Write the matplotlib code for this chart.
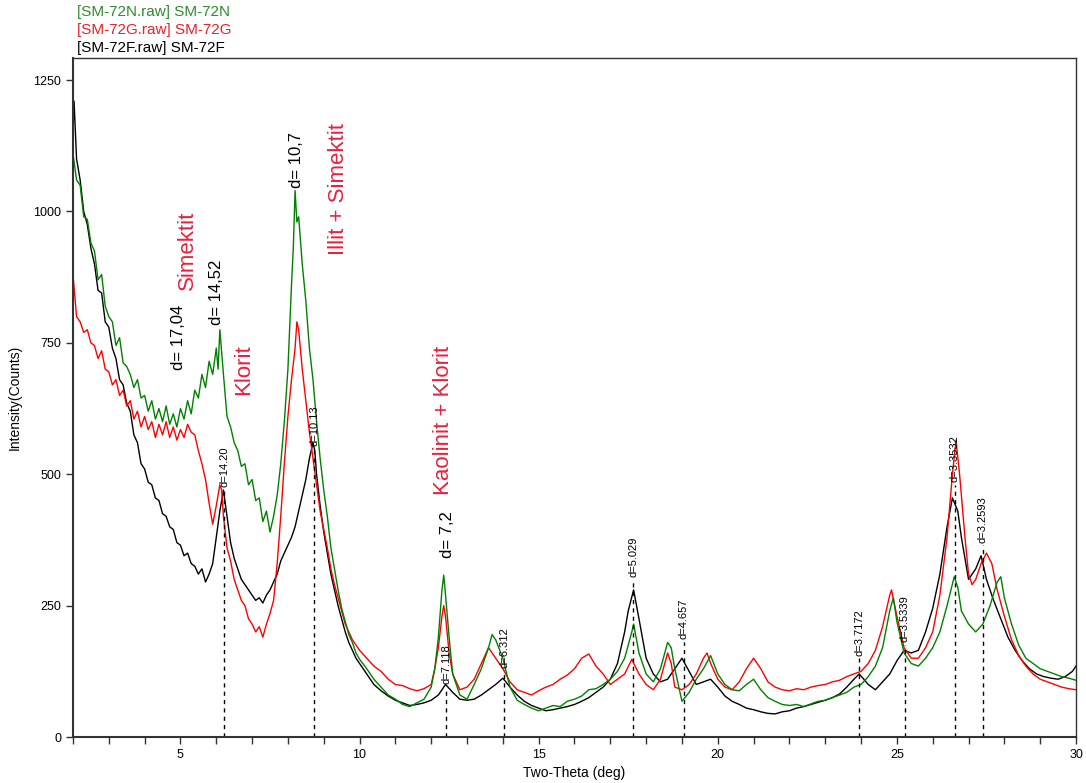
import matplotlib
matplotlib.use("Agg")
import matplotlib.pyplot as plt
from matplotlib.ticker import MultipleLocator

plt.rcParams['font.family'] = ['Liberation Sans', 'DejaVu Sans']

# SM-72N (green)
tt_n = [2.0, 2.1, 2.2, 2.3, 2.4, 2.5, 2.6, 2.7, 2.8, 2.9, 3.0, 3.1, 3.2, 3.3, 3.4, 3.5, 3.6, 3.7,
        3.8, 3.9, 4.0, 4.1, 4.2, 4.3, 4.4, 4.5, 4.6, 4.7, 4.8, 4.9, 5.0, 5.1, 5.2, 5.3, 5.4, 5.5,
        5.6, 5.7, 5.8, 5.9, 6.0, 6.05, 6.1, 6.2, 6.3, 6.4, 6.5, 6.6, 6.7, 6.8, 6.9, 7.0, 7.1, 7.2,
        7.3, 7.4, 7.5, 7.6, 7.7, 7.8, 7.9, 8.0, 8.1, 8.15, 8.2, 8.25, 8.3, 8.4, 8.5, 8.6, 8.7,
        8.8, 8.9, 9.0, 9.1, 9.2, 9.3, 9.4, 9.5, 9.6, 9.7, 9.8, 9.9, 10.0,
        10.2, 10.4, 10.6, 10.8, 11.0, 11.2, 11.4, 11.6, 11.8, 12.0, 12.1, 12.2, 12.3, 12.35, 12.4,
        12.5, 12.6, 12.8, 13.0, 13.2, 13.4, 13.6, 13.7, 13.8, 14.0, 14.2, 14.4, 14.6, 14.8, 15.0,
        15.2, 15.4, 15.6, 15.8, 16.0, 16.2, 16.4, 16.6, 16.8, 17.0, 17.2, 17.4, 17.6, 17.65, 17.8,
        18.0, 18.2, 18.4, 18.6, 18.7, 18.8, 19.0, 19.2, 19.4, 19.6, 19.8, 20.0, 20.2, 20.4, 20.6,
        20.8, 21.0, 21.2, 21.4, 21.6, 21.8, 22.0, 22.2, 22.4, 22.6, 22.8, 23.0, 23.2, 23.4, 23.6,
        23.8, 24.0, 24.2, 24.4, 24.6, 24.8, 24.9, 25.0, 25.2, 25.4, 25.6, 25.8, 26.0, 26.2, 26.4,
        26.6, 26.7, 26.8, 27.0, 27.2, 27.4, 27.6, 27.8, 27.9, 28.0, 28.2, 28.4, 28.6, 28.8, 29.0,
        29.2, 29.4, 29.6, 29.8, 30.0]
i_n = [1110, 1060, 1050, 990, 985, 940, 925, 870, 880, 820, 800, 790, 745, 760, 712, 705, 690, 665,
       680, 645, 650, 620, 640, 605, 625, 600, 630, 595, 615, 590, 625, 605, 640, 615, 660, 645,
       690, 665, 715, 690, 740, 700, 775, 690, 610, 590, 560, 545, 515, 520, 480, 490, 450, 455,
       410, 430, 390, 420, 460, 520, 600, 700, 860, 930, 1040, 980, 990, 900, 830, 740, 680,
       600, 530, 470, 420, 360, 320, 280, 245, 220, 195, 180, 160, 148,
       130, 110, 95, 80, 72, 62, 58, 65, 72, 95, 130, 190, 280, 308, 270,
       190, 120, 80, 72, 100, 130, 170, 195, 185, 150, 95, 70, 62, 55, 50,
       55, 60, 58, 68, 72, 78, 90, 92, 100, 110, 125, 150, 200, 215, 160,
       120, 105, 130, 180, 170, 130, 68, 85, 110, 130, 155, 120, 100, 90, 88,
       100, 110, 90, 75, 68, 62, 60, 62, 58, 63, 68, 70, 75, 80, 85,
       95, 100, 115, 135, 170, 240, 265, 220, 160, 140, 135, 150, 170, 200, 250,
       305, 285, 240, 215, 200, 215, 250, 295, 305, 265, 215, 175, 150, 140, 130,
       125, 120, 115, 112, 108]

# SM-72G (red)
tt_g = [2.0, 2.05, 2.1, 2.2, 2.3, 2.4, 2.5, 2.6, 2.7, 2.8, 2.9, 3.0, 3.1, 3.2, 3.3, 3.4, 3.5, 3.6,
        3.7, 3.8, 3.9, 4.0, 4.1, 4.2, 4.3, 4.4, 4.5, 4.6, 4.7, 4.8, 4.9, 5.0, 5.1, 5.2, 5.3, 5.4,
        5.5, 5.6, 5.7, 5.8, 5.9, 6.0, 6.1, 6.15, 6.2, 6.3, 6.4, 6.5, 6.6, 6.7, 6.8, 6.9, 7.0, 7.1,
        7.2, 7.3, 7.4, 7.5, 7.6, 7.7, 7.8, 7.9, 8.0, 8.1, 8.2, 8.25, 8.3, 8.4, 8.5, 8.6, 8.7, 8.8,
        8.9, 9.0, 9.1, 9.2, 9.3, 9.4, 9.5, 9.6, 9.7, 9.8, 9.9, 10.0,
        10.2, 10.4, 10.6, 10.8, 11.0, 11.2, 11.4, 11.6, 11.8, 12.0, 12.1, 12.2, 12.3, 12.35, 12.4,
        12.5, 12.6, 12.8, 13.0, 13.2, 13.4, 13.6, 13.8, 14.0, 14.2, 14.4, 14.6, 14.8, 15.0, 15.2,
        15.4, 15.6, 15.8, 16.0, 16.2, 16.4, 16.6, 16.8, 17.0, 17.2, 17.4, 17.6, 17.8, 18.0, 18.2,
        18.4, 18.6, 18.7, 18.8, 19.0, 19.2, 19.4, 19.6, 19.7, 19.8, 20.0, 20.2, 20.4, 20.6, 20.8,
        21.0, 21.2, 21.4, 21.6, 21.8, 22.0, 22.2, 22.4, 22.6, 22.8, 23.0, 23.2, 23.4, 23.6, 23.8,
        24.0, 24.2, 24.4, 24.6, 24.8, 24.85, 25.0, 25.2, 25.4, 25.6, 25.8, 26.0, 26.2, 26.4, 26.55,
        26.65, 26.75, 26.9, 27.0, 27.1, 27.2, 27.35, 27.5, 27.65, 27.8, 28.0, 28.2, 28.4, 28.6,
        28.8, 29.0, 29.2, 29.4, 29.6, 29.8, 30.0]
i_g = [880, 840, 800, 790, 770, 775, 750, 745, 720, 735, 700, 695, 670, 680, 650, 660, 630, 640,
       605, 620, 590, 610, 585, 600, 570, 595, 575, 600, 570, 590, 565, 585, 570, 595, 580, 575,
       545, 520, 490, 445, 405, 440, 480, 470, 420, 360, 335, 300, 280, 260, 250, 225, 215, 200,
       210, 190, 215, 235, 260, 330, 420, 520, 610, 680, 740, 790, 775, 700, 640, 580, 530, 480,
       430, 395, 360, 320, 290, 265, 240, 215, 200, 185, 175, 165,
       150, 135, 125, 110, 100, 98, 92, 88, 92, 100, 130, 170, 230, 250, 230,
       160, 120, 90, 95, 110, 140, 170, 150, 130, 105, 90, 85, 80, 88, 95,
       100, 110, 118, 130, 150, 158, 135, 120, 100, 110, 120, 148, 120, 100, 90,
       110, 160, 140, 95, 90, 100, 120, 150, 160, 140, 110, 95, 90, 105, 130,
       150, 130, 105, 95, 90, 88, 92, 90, 95, 98, 100, 105, 108, 115, 120,
       125, 140, 165, 210, 270, 280, 230, 170, 150, 150, 170, 200, 270, 380, 500,
       565, 500, 380, 310, 290, 300, 330, 350, 330, 280, 230, 185, 155, 135,
       120, 110, 105, 100, 95, 92, 90]

# SM-72F (black)
tt_f = [2.0, 2.03, 2.1, 2.2, 2.3, 2.4, 2.5, 2.6, 2.7, 2.8, 2.9, 3.0, 3.1, 3.2, 3.3, 3.4, 3.5, 3.6,
        3.7, 3.8, 3.9, 4.0, 4.1, 4.2, 4.3, 4.4, 4.5, 4.6, 4.7, 4.8, 4.9, 5.0, 5.1, 5.2, 5.3, 5.4,
        5.5, 5.6, 5.7, 5.8, 5.9, 6.0, 6.1, 6.2, 6.3, 6.4, 6.5, 6.6, 6.7, 6.8, 6.9, 7.0, 7.1, 7.2,
        7.3, 7.4, 7.5, 7.6, 7.7, 7.8, 7.9, 8.0, 8.1, 8.2, 8.3, 8.4, 8.5, 8.6, 8.7, 8.75, 8.8, 8.9,
        9.0, 9.1, 9.2, 9.3, 9.4, 9.5, 9.6, 9.7, 9.8, 9.9, 10.0,
        10.2, 10.4, 10.6, 10.8, 11.0, 11.2, 11.4, 11.6, 11.8, 12.0, 12.2, 12.4, 12.6, 12.8, 13.0,
        13.2, 13.4, 13.6, 13.8, 14.0, 14.2, 14.4, 14.6, 14.8, 15.0, 15.2, 15.4, 15.6, 15.8, 16.0,
        16.2, 16.4, 16.6, 16.8, 17.0, 17.2, 17.4, 17.5, 17.65, 17.8, 18.0, 18.2, 18.4, 18.6, 18.8,
        19.0, 19.2, 19.4, 19.6, 19.8, 20.0, 20.2, 20.4, 20.6, 20.8, 21.0, 21.2, 21.4, 21.6, 21.8,
        22.0, 22.2, 22.4, 22.6, 22.8, 23.0, 23.2, 23.4, 23.6, 23.8, 23.95, 24.2, 24.4, 24.6, 24.8,
        25.0, 25.2, 25.4, 25.6, 25.8, 26.0, 26.2, 26.4, 26.55, 26.7, 26.8, 27.0, 27.2, 27.35, 27.5,
        27.7, 27.9, 28.1, 28.3, 28.5, 28.7, 28.9, 29.1, 29.3, 29.5, 29.7, 29.9, 30.0]
i_f = [1150, 1210, 1100, 1060, 1000, 975, 930, 900, 850, 845, 790, 780, 740, 720, 680, 670, 635, 620,
       575, 560, 520, 510, 485, 480, 455, 450, 425, 420, 400, 395, 370, 365, 345, 350, 330, 325,
       310, 320, 295, 310, 330, 380, 430, 470, 420, 370, 340, 320, 300, 290, 280, 270, 260, 265,
       255, 270, 280, 295, 310, 335, 350, 365, 380, 400, 430, 460, 490, 530, 560, 545, 500, 440,
       390, 350, 310, 280, 250, 225, 200, 180, 165, 150, 140,
       120, 100, 88, 78, 70, 65, 60, 62, 65, 70, 80, 100, 85, 72, 70,
       72, 80, 90, 100, 112, 95, 80, 68, 60, 55, 50, 52, 55, 58, 62,
       68, 75, 85, 95, 110, 140, 200, 240, 280, 225, 150, 120, 105, 110, 130,
       150, 125, 100, 105, 110, 95, 78, 68, 62, 55, 52, 48, 45, 44, 48,
       50, 55, 58, 62, 66, 70, 75, 82, 95, 110, 120, 100, 90, 105, 120,
       145, 165, 160, 165, 200, 245, 310, 400, 455, 430, 380, 300, 320, 345, 300,
       260, 225, 190, 165, 145, 130, 120, 115, 112, 110, 115, 125, 135]

# dashed peak markers: position (deg), label, label base (counts)
peak_tt = [6.22, 8.74, 12.42, 14.04, 17.64, 19.05, 23.95, 25.22, 26.62, 27.4]
peak_lbl = ['d=14.20', 'd=10.13', 'd=7.118', 'd=6.312', 'd=5.029', 'd=4.657',
            'd=3.7172', 'd=3.5339', 'd=3.3532', 'd=3.2593']
peak_top = [470, 548, 95, 127, 300, 181, 150, 175, 480, 365]

# large d-value labels
d_tt = [4.95, 6.0, 8.25, 12.45]
d_lbl = ['d= 17,04', 'd= 14,52', 'd= 10,7', 'd= 7,2']
d_y = [698, 784, 1045, 340]

# mineral labels
min_tt = [5.2, 6.75, 9.4, 12.35]
min_lbl = ['Simektit', 'Klorit', 'Illit + Simektit', 'Kaolinit + Klorit']
min_y = [850, 651, 917, 460]

fig = plt.figure(figsize=(10.86, 7.83), dpi=100)
ax = fig.add_axes([0.0672, 0.0587, 0.9236, 0.8672])

ax.plot(tt_f, i_f, color='black', lw=1.0)
ax.plot(tt_g, i_g, color='#ff0000', lw=1.0)
ax.plot(tt_n, i_n, color='#008000', lw=1.0)

for x, lbl, top in zip(peak_tt, peak_lbl, peak_top):
    ax.plot([x, x], [0, top], color='black', lw=1.0, ls=(0, (3, 3)))
    ax.text(x, top + 5, lbl, rotation=90, ha='center', va='bottom', fontsize=8)

for x, lbl, y in zip(d_tt, d_lbl, d_y):
    ax.text(x, y, lbl, rotation=90, ha='center', va='bottom', fontsize=12)

for x, lbl, y in zip(min_tt, min_lbl, min_y):
    ax.text(x, y, lbl, rotation=90, ha='center', va='bottom', fontsize=16, color='#e8203f')

ax.set_xlim(2, 30)
ax.set_ylim(0, 1292)
ax.set_xticks([5, 10, 15, 20, 25, 30])
ax.xaxis.set_minor_locator(MultipleLocator(1))
ax.set_yticks([0, 250, 500, 750, 1000, 1250])
ax.tick_params(axis='both', direction='out', length=5, width=1, labelsize=9, color='#333333')
ax.tick_params(axis='x', which='minor', direction='out', length=5, width=1, color='#333333')
ax.tick_params(axis='y', which='both', right=False)
for s in ['left', 'bottom']:
    ax.spines[s].set_color('#333333')
    ax.spines[s].set_linewidth(1.5)
for s in ['top', 'right']:
    ax.spines[s].set_color('#333333')
    ax.spines[s].set_linewidth(1.0)

ax.set_xlabel('Two-Theta (deg)', fontsize=10, labelpad=4)
ax.set_ylabel('Intensity(Counts)', fontsize=10, labelpad=8)

fig.text(0.071, 0.9847, '[SM-72N.raw] SM-72N', color='#2e8b2e', fontsize=11, va='center')
fig.text(0.071, 0.9617, '[SM-72G.raw] SM-72G', color='#e8202a', fontsize=11, va='center')
fig.text(0.071, 0.9387, '[SM-72F.raw] SM-72F', color='black', fontsize=11, va='center')

fig.savefig('out.png', dpi=100)
